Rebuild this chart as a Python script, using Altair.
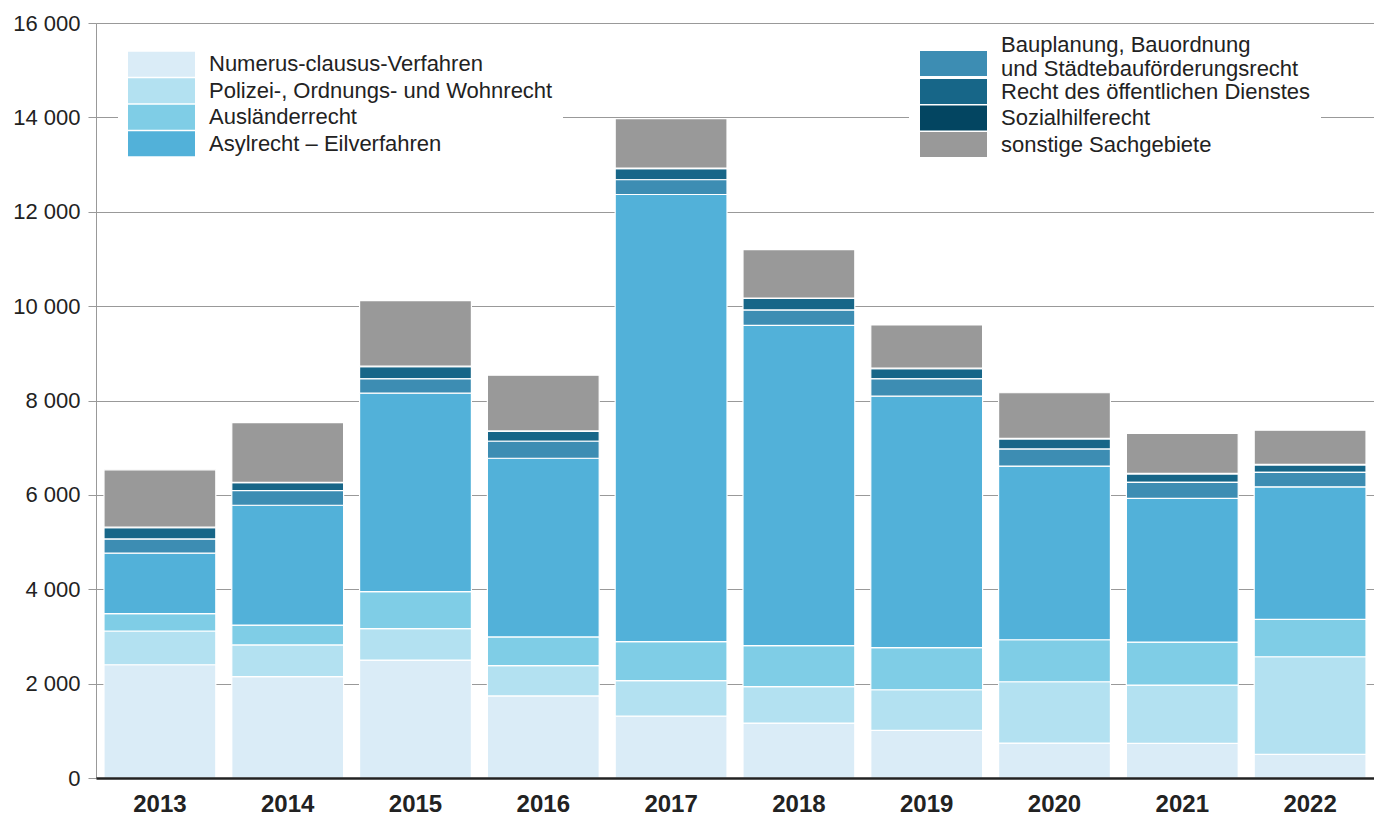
import altair as alt
import pandas as pd

years = ["2013", "2014", "2015", "2016", "2017", "2018", "2019", "2020", "2021", "2022"]

categories = [
    "Numerus-clausus-Verfahren",
    "Polizei-, Ordnungs- und Wohnrecht",
    "Ausländerrecht",
    "Asylrecht – Eilverfahren",
    "Bauplanung, Bauordnung und Städtebauförderungsrecht",
    "Recht des öffentlichen Dienstes",
    "Sozialhilferecht",
    "sonstige Sachgebiete",
]
colors = ["#daecf7", "#b3e1f1", "#7fcde6", "#52b1d9", "#3d8db3", "#176688", "#034561", "#999999"]

numerus = [2400, 2150, 2500, 1740, 1310, 1165, 1010, 740, 735, 500]
polizei = [715, 670, 665, 640, 755, 770, 860, 1300, 1235, 2070]
auslaender = [370, 420, 785, 610, 825, 870, 895, 890, 910, 790]
asyl = [1280, 2540, 4205, 3786, 9476, 6789, 5326, 3680, 3045, 2811]
bauplanung = [297, 312, 303, 360, 312, 321, 366, 361, 339, 304]
oeff_dienst = [244, 165, 259, 209, 238, 247, 217, 216, 180, 160]
sozialhilfe = [10, 10, 10, 10, 10, 10, 10, 10, 10, 10]
sonstige = [1215, 1265, 1390, 1180, 1046, 1027, 918, 967, 848, 727]

series = [numerus, polizei, auslaender, asyl, bauplanung, oeff_dienst, sozialhilfe, sonstige]

rows = []
for ci, (cat, vals) in enumerate(zip(categories, series)):
    for yr, v in zip(years, vals):
        rows.append({"Jahr": yr, "Sachgebiet": cat, "Wert": v, "Reihenfolge": ci})
df = pd.DataFrame(rows)

FONT = "Liberation Sans"
TXT = "#222222"
FS = 22

base = alt.Chart(df).transform_stack(
    stack="Wert",
    groupby=["Jahr"],
    as_=["y0", "y1"],
    sort=[alt.SortField("Reihenfolge", order="ascending")],
)

x_enc = alt.X(
    "Jahr:N",
    title=None,
    scale=alt.Scale(paddingInner=0.125, paddingOuter=0.0625),
    axis=alt.Axis(
        labelAngle=0, ticks=False, labelFontSize=24, labelFontWeight="bold",
        labelFont=FONT, labelColor=TXT, labelPadding=14,
        domainColor="#222222", domainWidth=2.5, grid=False, zindex=1,
    ),
)
y_enc = alt.Y(
    "y0:Q",
    title=None,
    scale=alt.Scale(domain=[0, 16000], nice=False),
    axis=alt.Axis(
        values=list(range(0, 16001, 2000)),
        labelExpr="replace(format(datum.value, ','), ',', ' ')",
        labelFontSize=FS, labelFont=FONT, labelColor=TXT, labelPadding=8,
        tickSize=8, tickColor="#999999", domainColor="#999999",
        gridColor="#999999", gridWidth=1.2,
    ),
)


def legend(lx, ly, pad, path, fill=True, **kw):
    opts = dict(
        title=None, orient="none", legendX=lx, legendY=ly,
        padding=pad, symbolType=path, symbolSize=625, symbolStrokeWidth=0,
        symbolOpacity=1, labelOffset=56, labelFontSize=FS, labelFont=FONT,
        labelColor=TXT, labelLimit=700, rowPadding=1.5, direction="vertical",
    )
    if fill:
        opts["fillColor"] = "white"
    opts.update(kw)
    return alt.Legend(**opts)


def layer(idx, leg):
    cats = [categories[i] for i in idx]
    cols = [colors[i] for i in idx]
    return base.transform_filter(
        alt.FieldOneOfPredicate(field="Reihenfolge", oneOf=idx)
    ).mark_bar(stroke="white", strokeWidth=1.2).encode(
        x=x_enc, y=y_enc, y2="y1:Q",
        color=alt.Color("Sachgebiet:N", scale=alt.Scale(domain=cats, range=cols), legend=leg),
    )


rect = "M-1,-1H4.36V1H-1Z"
rect_low = "M-1,0.48H4.36V2.48H-1Z"

layer_a = layer([0, 1, 2, 3], legend(22, 18.7, 10, rect))
layer_c = layer([5, 6, 7], legend(813, 45, 11, rect))
layer_b = layer([4], legend(
    814, -0.5, 10, rect_low, fill=False,
    labelExpr="['Bauplanung, Bauordnung', 'und Städtebauförderungsrecht']",
))

chart = alt.layer(layer_a, layer_c, layer_b).resolve_scale(color="independent").properties(
    width=1278, height=755,
    padding={"left": 88, "top": 15, "right": 0, "bottom": 37},
    autosize=alt.AutoSizeParams(type="none"),
).configure_view(stroke=None).configure(font=FONT)

chart.save("out.html", embed_options={"renderer": "svg", "actions": False})
